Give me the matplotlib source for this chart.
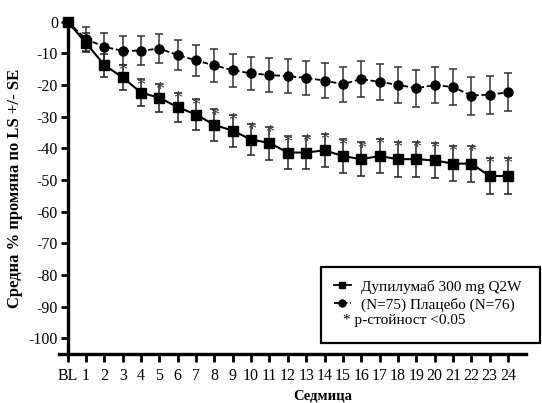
import matplotlib
matplotlib.use('Agg')
import matplotlib.pyplot as plt
from matplotlib.lines import Line2D
from matplotlib.patches import Rectangle

plt.rcParams['font.family'] = ['Liberation Serif', 'DejaVu Serif']
plt.rcParams['axes.unicode_minus'] = False

weeks = list(range(0, 25))
week_labels = ['BL'] + [str(w) for w in range(1, 25)]

dupi_mean = [0, -6.7, -13.7, -17.6, -22.4, -24.0, -27.0, -29.3, -32.6, -34.4, -37.2, -38.3,
             -41.3, -41.3, -40.6, -42.4, -43.4, -42.4, -43.4, -43.4, -43.8, -44.8, -44.8, -48.7, -48.7]
dupi_se = [0, 3.0, 3.6, 4.0, 4.2, 4.4, 4.6, 4.8, 4.9, 5.0, 5.0, 5.2,
           5.2, 5.3, 5.3, 5.3, 5.4, 5.4, 5.5, 5.5, 5.6, 5.6, 5.7, 5.8, 5.8]
dupi_signif = [False, False, False] + [True] * 22

plac_mean = [0, -5.5, -7.9, -9.2, -9.1, -8.5, -10.5, -12.2, -13.8, -15.3, -16.3, -16.8,
             -17.2, -17.7, -18.6, -19.7, -18.1, -19.0, -19.9, -21.0, -20.0, -20.6, -23.3, -23.0, -22.3]
plac_se = [0, 3.8, 4.5, 4.6, 4.6, 4.5, 4.7, 5.0, 5.1, 5.2, 5.2, 5.4,
           5.4, 5.4, 5.5, 5.5, 5.6, 5.6, 5.7, 5.8, 5.8, 5.8, 6.0, 6.0, 6.0]

legend_labels = ['Дупилумаб 300 mg Q2W', '(N=75) Плацебо (N=76)']
note_text = '* p-стойност <0.05'

fig = plt.figure(figsize=(5.42, 4.03), dpi=100)
ax = fig.add_axes([0.108, 0.121, 0.863, 0.825])

ax.errorbar(weeks, plac_mean, yerr=plac_se, fmt='none', ecolor='#333333',
            elinewidth=1.1, capsize=3, capthick=1.1, clip_on=False, zorder=2)
ax.errorbar(weeks, dupi_mean, yerr=dupi_se, fmt='none', ecolor='#222222',
            elinewidth=1.1, capsize=3, capthick=1.1, clip_on=False, zorder=2)
ax.plot(weeks, plac_mean, color='black', linestyle=(0, (3, 1.5)), linewidth=1.3,
        marker='o', markersize=6.5, clip_on=False, zorder=3)
ax.plot(weeks, dupi_mean, color='black', linestyle='-', linewidth=1.5,
        marker='s', markersize=6.5, clip_on=False, zorder=4)

# significance stars just under the upper cap of the active-arm error bars
for w, m, s, sig in zip(weeks, dupi_mean, dupi_se, dupi_signif):
    if sig:
        ax.annotate('*', (w, m + s), xytext=(0, -5), textcoords='offset points',
                    ha='center', va='center', fontsize=13, color='#444444', zorder=5)

ax.set_xlim(-0.5, 25)
ax.set_ylim(-105, 0)
ax.set_xticks(weeks)
ax.set_xticklabels(week_labels)
ax.set_yticks(range(0, -101, -10))

ax.spines['left'].set_position(('data', 0))
ax.spines['left'].set_linewidth(2.4)
ax.spines['bottom'].set_linewidth(2.4)
ax.spines['top'].set_visible(False)
ax.spines['right'].set_visible(False)
ax.tick_params(axis='x', direction='out', length=6, width=2, labelsize=11.5, pad=4)
ax.tick_params(axis='y', direction='out', length=5, width=2, labelsize=11.5, pad=2)

ax.set_ylabel('Средна % промяна по LS +/- SE', fontsize=12, fontweight='bold')
ax.yaxis.set_label_coords(-0.075, 0.5)
ax.set_xlabel('Седмица', fontsize=10.5, fontweight='bold', va='center')
ax.xaxis.set_label_coords(0.565, -0.126)

# legend box
fig.patches.append(Rectangle((0.592, 0.148), 0.405, 0.189, transform=fig.transFigure,
                             fill=False, edgecolor='black', linewidth=1.6))
handles = [Line2D([], [], color='black', linestyle='-', marker='s', markersize=5, linewidth=1.3),
           Line2D([], [], color='black', linestyle=(0, (3, 1.5)), marker='o', markersize=5, linewidth=1.3)]
fig.legend(handles, legend_labels, loc='upper left', bbox_to_anchor=(0.602, 0.325),
           frameon=False, fontsize=11, handlelength=1.1, handletextpad=0.7,
           labelspacing=0.25, borderpad=0.0)
fig.text(0.632, 0.205, note_text, fontsize=11, ha='left', va='center')

fig.savefig('out.png', dpi=100)
